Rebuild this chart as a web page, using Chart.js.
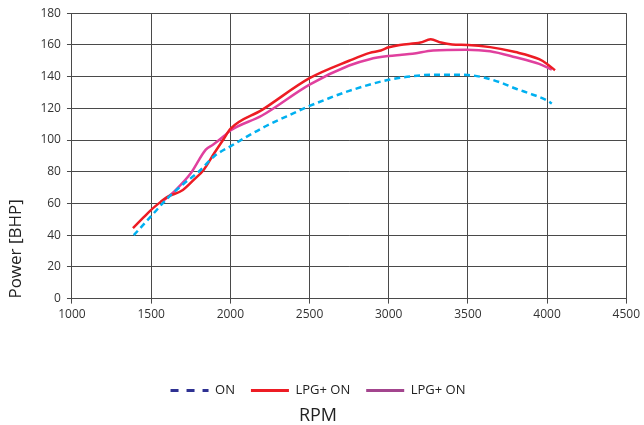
<!DOCTYPE html>
<html>
<head>
<meta charset="utf-8">
<script src="https://cdn.jsdelivr.net/npm/chart.js@4.4.1/dist/chart.umd.min.js"></script>
<style>
  html, body { margin: 0; padding: 0; background: #fff; }
  #wrap { width: 644px; height: 425px; }
</style>
</head>
<body>
<div id="wrap"><canvas id="chart"></canvas></div>
<script>
// ON (diesel only)
const rpmOn = [1390, 1500, 1600, 1700, 1800, 1900, 2000, 2200, 2400, 2500, 2600, 2750, 3000, 3200, 3300, 3400, 3500, 3600, 3700, 3800, 3900, 4000, 4030]
const powerOn = [40, 52, 63, 72, 80, 90, 96, 107.5, 117, 121.5, 125.5, 131, 138, 140.8, 141.2, 141.2, 141, 139.5, 136.5, 132.5, 129, 125, 123]

// LPG+ ON (red)
const rpmLpg1 = [1385, 1450, 1500, 1560, 1600, 1700, 1770, 1830, 1900, 1960, 2000, 2200, 2500, 2750, 2880, 2950, 3000, 3070, 3200, 3265, 3330, 3400, 3500, 3640, 3800, 3950, 4000, 4050]
const powerLpg1 = [44.5, 51, 56, 61, 64, 68.5, 75, 81, 92, 101, 107, 119, 139, 150, 155, 156.5, 158.5, 160, 161.5, 163.5, 161.5, 160.3, 160, 158.6, 155.5, 151, 148, 144]

// LPG+ ON (magenta)
const rpmLpg2 = [1580, 1650, 1750, 1845, 1890, 1960, 2000, 2200, 2500, 2750, 2880, 3000, 3070, 3150, 3280, 3490, 3640, 3800, 3950, 4030]
const powerLpg2 = [62, 68, 79, 94, 97, 102.5, 106, 115.5, 135, 147, 151, 153, 153.7, 154.4, 156.5, 157, 156, 152.2, 148, 144.5]

const seriesLabels = ["ON", "LPG+ ON", "LPG+ ON"]
const lineColors = ["#00b0f0", "#ed1c24", "#e0409e"]
const legendColors = ["#2e3192", "#ed1c24", "#a3458e"]

const toPoints = (xs, ys) => xs.map((x, i) => ({ x: x, y: ys[i] }))

const FONT = "'Open Sans', 'Noto Sans', sans-serif"

const ctx = document.getElementById("chart").getContext("2d")
new Chart(ctx, {
  type: "line",
  data: {
    datasets: [
      {
        label: seriesLabels[0],
        data: toPoints(rpmOn, powerOn),
        borderColor: lineColors[0],
        borderWidth: 2.5,
        borderDash: [6, 4],
        pointRadius: 0,
        cubicInterpolationMode: "monotone",
        pointStyle: "line"
      },
      {
        label: seriesLabels[1],
        data: toPoints(rpmLpg1, powerLpg1),
        borderColor: lineColors[1],
        borderWidth: 2.5,
        pointRadius: 0,
        cubicInterpolationMode: "monotone",
        pointStyle: "line"
      },
      {
        label: seriesLabels[2],
        data: toPoints(rpmLpg2, powerLpg2),
        borderColor: lineColors[2],
        borderWidth: 2.5,
        pointRadius: 0,
        cubicInterpolationMode: "monotone",
        pointStyle: "line"
      }
    ]
  },
  options: {
    responsive: true,
    maintainAspectRatio: false,
    animation: false,
    layout: { padding: { left: 4, right: 12, top: 5, bottom: 0 } },
    plugins: {
      legend: {
        position: "bottom",
        labels: {
          usePointStyle: true,
          pointStyleWidth: 38,
          boxHeight: 10,
          padding: 16,
          color: "#222",
          font: { family: FONT, size: 13 },
          generateLabels(chart) {
            const items = Chart.defaults.plugins.legend.labels.generateLabels(chart)
            items.forEach((it, i) => {
              it.strokeStyle = legendColors[i]
              it.fillStyle = legendColors[i]
              it.lineWidth = 3
              it.lineDash = i === 0 ? [8, 8] : []
            })
            return items
          }
        }
      },
      title: {
        display: true,
        position: "bottom",
        text: "RPM",
        color: "#222",
        font: { family: FONT, size: 18, weight: "normal", lineHeight: 1.0 },
        padding: { top: 0, bottom: 0 }
      },
      tooltip: { enabled: false }
    },
    scales: {
      x: {
        type: "linear",
        min: 1000,
        max: 4500,
        ticks: { stepSize: 500, color: "#333", font: { family: FONT, size: 12 }, padding: 4, format: { useGrouping: false } },
        grid: { color: "#4a4a4a", lineWidth: 1, tickLength: 5 },
        border: { color: "#4a4a4a" },
        afterFit(scale) { scale.height += 42 }
      },
      y: {
        min: 0,
        max: 180,
        ticks: { stepSize: 20, color: "#333", font: { family: FONT, size: 12 }, padding: 6 },
        grid: { color: "#4a4a4a", lineWidth: 1, tickLength: 5 },
        border: { color: "#4a4a4a" },
        title: {
          display: true,
          text: "Power [BHP]",
          align: "start",
          color: "#222",
          font: { family: FONT, size: 17 },
          padding: { top: 2, bottom: 8 }
        }
      }
    }
  }
})
</script>
</body>
</html>
